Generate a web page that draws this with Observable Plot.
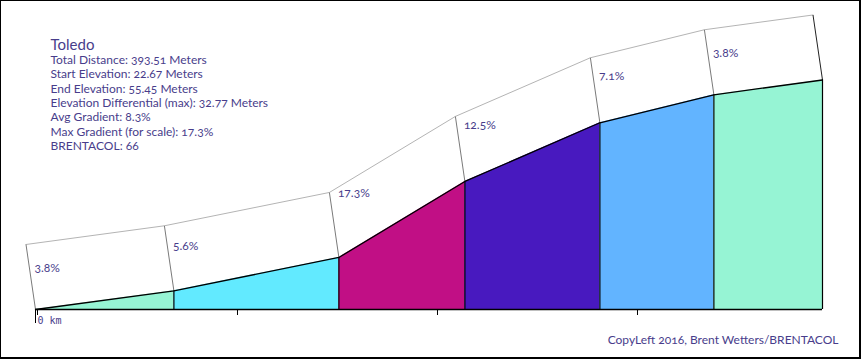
<!DOCTYPE html>
<html>
<head>
<meta charset="utf-8">
<script src="https://cdn.jsdelivr.net/npm/d3@7"></script>
<script src="https://cdn.jsdelivr.net/npm/@observablehq/plot@0.6"></script>
<style>
  html, body { margin: 0; padding: 0; background: #fff; }
  #chart svg { display: block; font-variant-numeric: oldstyle-nums; }
</style>
</head>
<body>
<div id="chart"></div>
<script>
// ---- data ----
const boundaryDistances = [0, 69.2, 151.7, 214.7, 282.2, 339.2, 393.51]; // metres
const boundaryElevations = [22.67, 25.34, 30.10, 40.96, 49.34, 53.34, 55.45]; // metres
const segmentGradients = [3.8, 5.6, 17.3, 12.5, 7.1, 3.8]; // percent
const segmentLabels = ["3.8%", "5.6%", "17.3%", "12.5%", "7.1%", "3.8%"];
const segmentColors = ["#96F4D4", "#62EAFF", "#C10F85", "#4819BF", "#62B4FF", "#96F4D4"];
const xTicks = [0, 100, 200, 300];
const xTickLabels = ["0 km", "", "", ""];
const titleText = "Toledo";
const infoLines = [
  "Total Distance: 393.51 Meters",
  "Start Elevation: 22.67 Meters",
  "End Elevation: 55.45 Meters",
  "Elevation Differential (max): 32.77 Meters",
  "Avg Gradient: 8.3%",
  "Max Gradient (for scale): 17.3%",
  "BRENTACOL: 66"
];
const creditText = "CopyLeft 2016, Brent Wetters/BRENTACOL";

// ---- derived tables ----
const baseElevation = boundaryElevations[0];
const topElevation = boundaryElevations[boundaryElevations.length - 1];
const totalDistance = boundaryDistances[boundaryDistances.length - 1];

const profile = boundaryDistances.map((d, i) => ({x: d, y: boundaryElevations[i]}));

const areaPoints = [];
segmentGradients.forEach((g, i) => {
  areaPoints.push({x: boundaryDistances[i], y: boundaryElevations[i], seg: i, fill: segmentColors[i]});
  areaPoints.push({x: boundaryDistances[i + 1], y: boundaryElevations[i + 1], seg: i, fill: segmentColors[i]});
});

// the oblique "wall" drawn above the profile (shift in data units)
const wallShiftX = -4.75;   // metres along
const wallLift = 9.286;     // metres up
const wallTop = profile.map(p => ({x: p.x + wallShiftX, y: p.y + wallLift}));
const wallEdges = profile.map((p, i) => ({
  x1: p.x, y1: p.y, x2: p.x + wallShiftX, y2: p.y + wallLift,
  last: i === profile.length - 1
}));

const labels = segmentLabels.map((t, i) => ({
  x: boundaryDistances[i],
  y: boundaryElevations[i] + (34.9 + 1.68 * segmentGradients[i]) / 7,
  text: t
}));

const textColor = "#483D8B";
const font = "Lato, 'Open Sans', sans-serif";

const borderMark = (index, scales, values, dims) => {
  const r = document.createElementNS("http://www.w3.org/2000/svg", "rect");
  r.setAttribute("x", 0);
  r.setAttribute("y", 0);
  r.setAttribute("width", dims.width - 2);
  r.setAttribute("height", dims.height - 1);
  r.setAttribute("fill", "none");
  r.setAttribute("stroke", "#000");
  r.setAttribute("stroke-width", 2);
  return r;
};

const chart = Plot.plot({
  width: 862,
  height: 359,
  marginLeft: 35,
  marginRight: 40,
  marginTop: 79.5,
  marginBottom: 50,
  x: {domain: [0, totalDistance]},
  y: {domain: [baseElevation, topElevation], axis: null},
  color: {type: "identity"},
  style: {fontFamily: font, color: textColor, background: "#fff", overflow: "visible"},
  marks: [
    // coloured segments
    Plot.areaY(areaPoints, {x: "x", y1: baseElevation, y2: "y", z: "seg", fill: "fill"}),
    // wall
    Plot.line(wallTop, {x: "x", y: "y", stroke: "#b4b4b4", strokeWidth: 1}),
    Plot.link(wallEdges, {x1: "x1", y1: "y1", x2: "x2", y2: "y2",
      stroke: d => d.last ? "#222" : "#7a7a7a", strokeWidth: 1}),
    // segment separators
    Plot.ruleX(profile.slice(1), {x: "x", y1: baseElevation, y2: "y", stroke: "#000", strokeWidth: 1.2}),
    // profile line
    Plot.line(profile, {x: "x", y: "y", stroke: "#000", strokeWidth: 1.3}),
    // baseline + ticks
    Plot.ruleY([baseElevation], {stroke: "#000", strokeWidth: 1.3}),
    Plot.axisX({ticks: xTicks, tickSize: 6, tickPadding: 1, tickFormat: (d, i) => xTickLabels[i],
      textAnchor: "start", dx: 2, fontSize: 10, fontFamily: "'DejaVu Sans Mono', monospace",
      fill: textColor, stroke: "#000", label: null}),
    Plot.axisX({ticks: [0], tickSize: 14, tickFormat: () => "", stroke: "#000", label: null}),
    // gradient labels
    Plot.text(labels, {x: "x", y: "y", text: "text", textAnchor: "start", dx: -1,
      fontSize: 12, fill: textColor}),
    // info block
    Plot.text([titleText], {frameAnchor: "top-left", dx: 15, dy: -41, lineAnchor: "top",
      fontSize: 15, fill: textColor}),
    Plot.text([infoLines.join("\n")], {frameAnchor: "top-left", dx: 15, dy: -26, lineAnchor: "top",
      fontSize: 12, lineHeight: 14.3 / 12, fill: textColor}),
    // credit
    Plot.text([creditText], {frameAnchor: "bottom-right", dx: 16, dy: 31, lineAnchor: "middle",
      fontSize: 12, fill: textColor}),
    borderMark
  ]
});
document.getElementById("chart").appendChild(chart);
</script>
</body>
</html>
